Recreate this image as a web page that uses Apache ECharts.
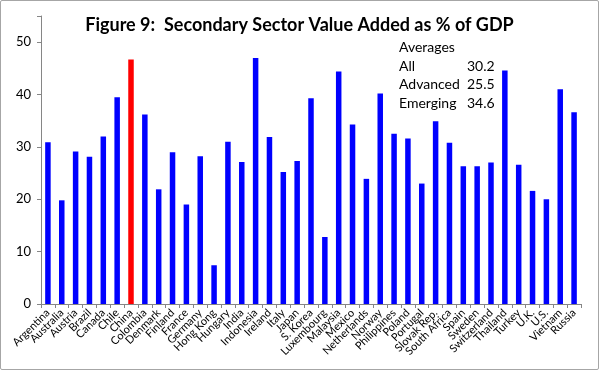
<!DOCTYPE html>
<html><head><meta charset="utf-8">
<script src="https://cdn.jsdelivr.net/npm/echarts@6/dist/echarts.min.js"></script>
<style>
html,body{margin:0;padding:0;background:#fff;}
#c{position:absolute;left:0;top:0;width:597px;height:368px;border:1.5px solid #a6a6a6;border-radius:2px;}
</style></head>
<body><div id="c"></div>
<script>
const categories = ["Argentina","Australia","Austria","Brazil","Canada","Chile","China","Colombia","Denmark","Finland","France","Germany","Hong Kong","Hungary","India","Indonesia","Ireland","Italy","Japan","S. Korea","Luxembourg","Malaysia","Mexico","Netherlands","Norway","Philippines","Poland","Portugal","Slovak Rep.","South Africa","Spain","Sweden","Switzerland","Thailand","Turkey","U.K.","U.S.","Vietnam","Russia"];
const values = [30.9,19.8,29.1,28.1,32.0,39.5,46.7,36.2,21.9,29.0,19.0,28.2,7.4,31.0,27.1,47.0,31.9,25.2,27.3,39.3,12.8,44.4,34.3,23.9,40.2,32.5,31.6,23.0,34.9,30.8,26.3,26.3,27.0,44.6,26.6,21.6,20.0,41.0,36.6];
const highlight = "China";
const yTicks = [0,10,20,30,40,50];
const title = "Figure 9:  Secondary Sector Value Added as % of GDP";
const avgLabels = ["All","Advanced","Emerging"];
const avgValues = ["30.2","25.5","34.6"];

const chart = echarts.init(document.getElementById('c'));
const font = 'Lato, "Open Sans", sans-serif';
const avgGraphics = [{type:'text',left:398,top:39,style:{text:'Averages',font:'14px '+font,fill:'#000'}}];
avgLabels.forEach((l,i)=>{
  avgGraphics.push({type:'text',left:398,top:58+i*18.7,style:{text:l,font:'14px '+font,fill:'#000'}});
  avgGraphics.push({type:'text',left:466,top:58+i*18.7,style:{text:avgValues[i],font:'14px '+font,fill:'#000'}});
});
chart.setOption({
  animation:false,
  title:{text:title,left:'center',top:10,textStyle:{fontFamily:font,fontSize:18,fontWeight:'bold',color:'#000'}},
  grid:{left:40,right:17,top:15,bottom:65,containLabel:false},
  xAxis:{type:'category',data:categories,
    axisLine:{lineStyle:{color:'#868686'}},
    axisTick:{show:true,length:4,lineStyle:{color:'#868686'}},
    axisLabel:{rotate:45,interval:0,fontFamily:font,fontSize:11,color:'#000',margin:7}},
  yAxis:{type:'value',min:0,max:55,interval:10,
    splitLine:{show:false},
    axisLine:{show:true,lineStyle:{color:'#868686'}},
    axisTick:{show:true,length:4,lineStyle:{color:'#868686'}},
    axisLabel:{fontFamily:font,fontSize:13,color:'#000',margin:10,
      formatter:v=>yTicks.includes(v)?String(v):''}},
  series:[{type:'bar',barWidth:5.5,
    data:values.map((v,i)=>({value:v,itemStyle:{color:categories[i]===highlight?'#ff0000':'#0000ff'}}))}],
  graphic:avgGraphics
});
</script></body></html>
